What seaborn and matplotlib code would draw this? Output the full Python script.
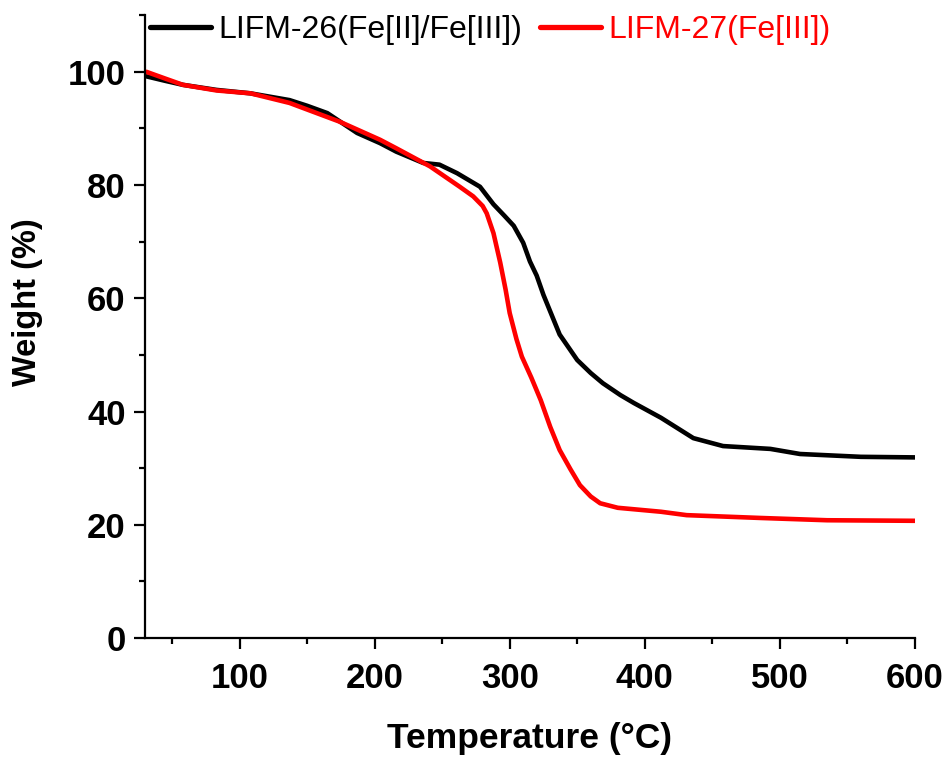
import numpy as np
import pandas as pd
import matplotlib
matplotlib.use("Agg")
import matplotlib.pyplot as plt
import seaborn as sns
from matplotlib.ticker import MultipleLocator

# ---- data ----
t26 = [31, 45, 58, 83, 108, 137, 150, 165, 187, 204, 216, 236, 248, 261, 278,
       288, 296, 303, 310, 315, 320, 325, 337, 350, 360, 369, 382, 392, 412,
       436, 458, 493, 515, 560, 600]
w26 = [99.2, 98.4, 97.7, 96.8, 96.2, 95.0, 94.0, 92.7, 89.2, 87.4, 85.9, 83.9,
       83.6, 82.1, 79.7, 76.6, 74.6, 72.8, 69.8, 66.5, 64.0, 60.6, 53.6, 49.1,
       46.8, 45.0, 42.9, 41.5, 38.9, 35.3, 33.9, 33.4, 32.5, 32.0, 31.9]

t27 = [31, 45, 58, 83, 108, 137, 174, 204, 216, 241, 263, 273, 280, 283, 288,
       293, 297, 300, 305, 309, 316, 323, 330, 337, 345, 352, 360, 367, 380,
       412, 431, 486, 535, 600]
w27 = [100.0, 98.8, 97.7, 96.7, 96.2, 94.5, 91.2, 88.0, 86.5, 83.3, 79.7, 78.0,
       76.3, 75.0, 71.5, 66.3, 61.5, 57.4, 52.8, 49.7, 46.0, 42.0, 37.3, 33.2,
       29.8, 27.0, 25.0, 23.8, 23.0, 22.3, 21.7, 21.2, 20.8, 20.7]

labels = ["LIFM-26(Fe[II]/Fe[III])", "LIFM-27(Fe[III])"]
colors = ["#000000", "#ff0000"]

df = pd.concat([
    pd.DataFrame({"Temperature": t26, "Weight": w26, "Sample": labels[0]}),
    pd.DataFrame({"Temperature": t27, "Weight": w27, "Sample": labels[1]}),
])

sns.set_theme(style="white")
plt.rcParams["font.family"] = ["Liberation Sans", "DejaVu Sans"]

fig = plt.figure(figsize=(9.51, 7.59), dpi=100)
ax = fig.add_axes([0.1525, 0.1594, 0.8095, 0.8206])

sns.lineplot(data=df, x="Temperature", y="Weight", hue="Sample",
             palette=dict(zip(labels, colors)), linewidth=3.3, ax=ax,
             sort=False, estimator=None)

ax.set_xlim(30, 600)
ax.set_ylim(0, 110)
ax.xaxis.set_major_locator(MultipleLocator(100))
ax.xaxis.set_minor_locator(MultipleLocator(50))
ax.yaxis.set_major_locator(MultipleLocator(20))
ax.yaxis.set_minor_locator(MultipleLocator(10))

for side in ["top", "right"]:
    ax.spines[side].set_visible(False)
for side in ["left", "bottom"]:
    ax.spines[side].set_color("black")
    ax.spines[side].set_linewidth(1.6)

ax.tick_params(which="major", direction="out", length=8, width=1.6,
               color="black", labelsize=25, labelcolor="black",
               bottom=True, left=True, pad=6)
ax.tick_params(axis="x", which="major", pad=9)
ax.tick_params(which="minor", direction="out", length=4, width=1.6,
               color="black", bottom=True, left=True)
for lab in ax.get_xticklabels() + ax.get_yticklabels():
    lab.set_fontweight("bold")

ax.set_xlabel("Temperature (\u00b0C)", fontsize=25.5, fontweight="bold",
              color="black", labelpad=20)
ax.set_ylabel("Weight (%)", fontsize=23.5, fontweight="bold",
              color="black")
ax.yaxis.set_label_coords(-0.1325, 0.539)

leg = ax.legend(loc="center left", bbox_to_anchor=(0.0065, 0.976), ncol=2,
                frameon=False, fontsize=23, handlelength=1.9,
                handletextpad=0.25, columnspacing=0.55, borderpad=0,
                borderaxespad=0)
for txt, c in zip(leg.get_texts(), colors):
    txt.set_color(c)
for h in leg.get_lines():
    h.set_linewidth(3.8)

ax.grid(False)
fig.savefig("out.png", dpi=100)
